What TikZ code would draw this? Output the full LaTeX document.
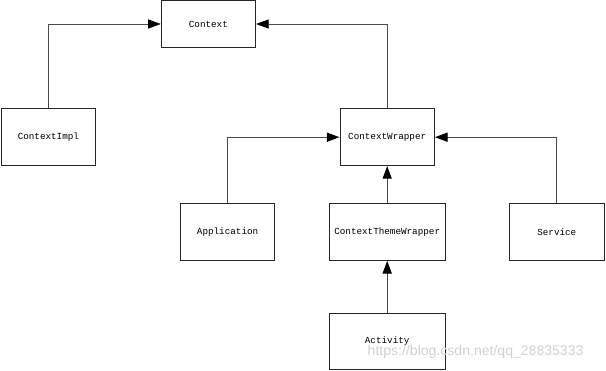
\documentclass[tikz,border=0pt]{standalone}
\usepackage{tikz}
\usetikzlibrary{arrows.meta,positioning}
\usepackage{fontspec}
\setmonofont{Liberation Mono}
\setsansfont{Liberation Sans}
\definecolor{edge}{HTML}{4A4A4A}

\begin{document}
\begin{tikzpicture}[
  box/.style={rectangle, draw=black!85, line width=0.7pt, fill=white, minimum width=2.36cm, minimum height=1.42cm, align=center, font=\fontsize{6.6}{8}\ttfamily, inner sep=1pt},
  wide/.style={box, minimum width=2.9cm},
  inherit/.style={draw=edge, line width=0.7pt, -{Triangle[length=9pt, width=6.5pt, color=black]}}
]
  \useasboundingbox (0, 0) rectangle (15.15, -9.275);
  % Boxes
  \node[box, minimum height=1.19cm] (ctx) at (5.21, -0.6) {Context};
  \node[box] (impl) at (1.21, -3.43) {ContextImpl};
  \node[box] (wrap) at (9.68, -3.43) {ContextWrapper};
  \node[box] (app) at (5.69, -5.8) {Application};
  \node[wide] (theme) at (9.68, -5.8) {ContextThemeWrapper};
  \node[box] (svc) at (13.92, -5.8) {Service};
  \node[wide, minimum height=1.41cm] (act) at (9.68, -8.54) {Activity};
  % Watermark
  \node[font=\fontsize{10}{12}\sffamily, text=black!18, inner sep=0pt] (mark) at (11.89, -8.8) {https://blog.csdn.net/qq\_28835333};
  % Connectors
  \draw[inherit] (impl.north) |- (ctx.west);
  \draw[inherit] (wrap.north) |- (ctx.east);
  \draw[inherit] (app.north) |- (wrap.west);
  \draw[inherit] (svc.north) |- (wrap.east);
  \draw[inherit] (theme) -- (wrap);
  \draw[inherit] (act) -- (theme);
\end{tikzpicture}
\end{document}
